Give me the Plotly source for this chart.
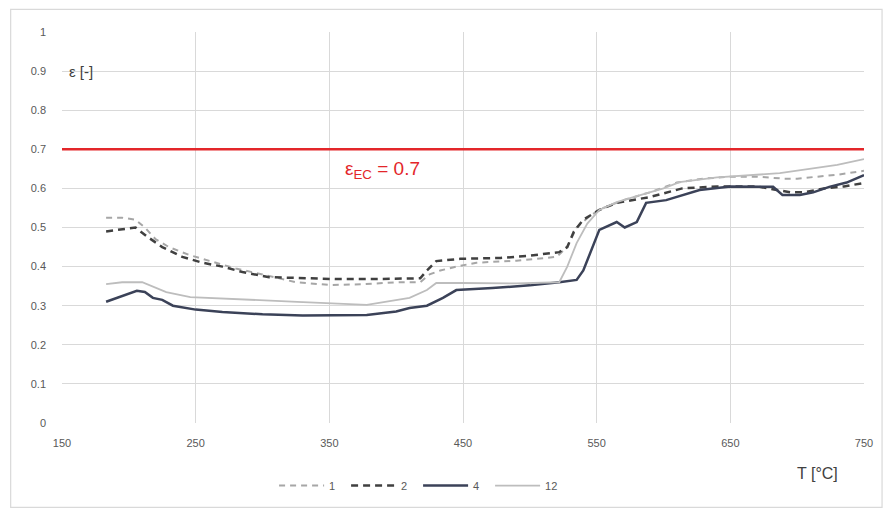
import plotly.graph_objects as go

# Emissivity measurements for samples 1, 2, 4 and 12 versus temperature
t1 = [183, 195, 205, 212, 220, 230, 245, 260, 280, 300, 325, 350, 375, 400, 418, 425, 433, 445, 460, 490,
      520, 528, 535, 545, 555, 570, 590, 610, 630, 650, 670, 690, 700, 715, 730, 750]
e1 = [0.525, 0.525, 0.52, 0.50, 0.47, 0.45, 0.43, 0.415, 0.395, 0.38, 0.36, 0.353, 0.355, 0.36, 0.36, 0.38,
      0.39, 0.40, 0.41, 0.415, 0.425, 0.45, 0.50, 0.53, 0.55, 0.57, 0.59, 0.615, 0.625, 0.63, 0.63, 0.625,
      0.625, 0.63, 0.635, 0.645]

t2 = [183, 195, 205, 214, 225, 240, 255, 270, 285, 305, 330, 356, 378, 400, 418, 423, 430, 448, 478, 500,
      522, 528, 533, 540, 552, 565, 590, 614, 640, 670, 685, 695, 705, 720, 735, 750]
e2 = [0.49, 0.495, 0.50, 0.476, 0.45, 0.425, 0.41, 0.40, 0.386, 0.373, 0.37, 0.368, 0.368, 0.37, 0.37,
      0.39, 0.414, 0.42, 0.422, 0.428, 0.437, 0.45, 0.49, 0.52, 0.545, 0.563, 0.578, 0.60, 0.605, 0.605,
      0.595, 0.59, 0.59, 0.60, 0.605, 0.614]

t4 = [183, 195, 206, 212, 218, 225, 233, 250, 270, 300, 330, 378, 400, 410, 423, 435, 445, 472, 500, 522,
      535, 540, 543, 548, 552, 565, 571, 580, 587, 602, 627, 650, 682, 689, 702, 712, 724, 737, 750]
e4 = [0.31, 0.325, 0.338, 0.335, 0.32, 0.315, 0.30, 0.29, 0.284, 0.278, 0.275, 0.276, 0.285, 0.294, 0.30,
      0.32, 0.34, 0.345, 0.352, 0.36, 0.366, 0.39, 0.417, 0.46, 0.494, 0.514, 0.50, 0.514, 0.563, 0.57,
      0.596, 0.605, 0.604, 0.583, 0.583, 0.59, 0.604, 0.615, 0.634]

t12 = [183, 195, 210, 228, 246, 270, 288, 326, 378, 410, 423, 430, 448, 490, 522, 528, 535, 543, 552, 565,
       580, 600, 612, 640, 687, 710, 730, 750]
e12 = [0.355, 0.36, 0.36, 0.335, 0.322, 0.318, 0.315, 0.31, 0.302, 0.32, 0.34, 0.358, 0.358, 0.357, 0.36,
       0.40, 0.46, 0.51, 0.545, 0.565, 0.58, 0.60, 0.616, 0.628, 0.639, 0.65, 0.66, 0.675]

# Limit value from the Eurocode
eps_ec = 0.7
t_range = [150, 750]

x_ticks = [150, 250, 350, 450, 550, 650, 750]
y_ticks = [0, 0.1, 0.2, 0.3, 0.4, 0.5, 0.6, 0.7, 0.8, 0.9, 1]
y_labels = ["0", "0.1", "0.2", "0.3", "0.4", "0.5", "0.6", "0.7", "0.8", "0.9", "1"]

FONT = "Liberation Sans"
TXT = "#595959"

fig = go.Figure()

fig.add_trace(go.Scatter(x=t_range, y=[eps_ec, eps_ec], mode="lines",
                         line=dict(color="#e3262a", width=2.5), showlegend=False, hoverinfo="skip"))

fig.add_trace(go.Scatter(x=t1, y=e1, mode="lines", name="1",
                         line=dict(color="#a6a6a6", width=2, dash="6px,5px")))
fig.add_trace(go.Scatter(x=t2, y=e2, mode="lines", name="2",
                         line=dict(color="#404040", width=2.5, dash="7px,5px")))
fig.add_trace(go.Scatter(x=t4, y=e4, mode="lines", name="4",
                         line=dict(color="#3b4258", width=2.5)))
fig.add_trace(go.Scatter(x=t12, y=e12, mode="lines", name="12",
                         line=dict(color="#bdbdbd", width=1.8)))

fig.add_annotation(x=390, y=0.647, text="ε<sub>EC</sub> = 0.7", showarrow=False,
                   font=dict(family=FONT, size=19, color="#e3262a"))
fig.add_annotation(x=0.006, y=0.9, xref="paper", text="ε [-]", showarrow=False, xanchor="left",
                   font=dict(family=FONT, size=15, color="#404040"))
fig.add_annotation(x=0.97, y=-0.155, xref="paper", yref="paper", text="T [°C]", showarrow=False,
                   font=dict(family=FONT, size=16, color="#404040"))

# light frame around the whole chart
fig.add_shape(type="rect", xref="paper", yref="paper", x0=-0.064, x1=1.0225, y0=-0.216, y1=1.058,
              line=dict(color="#d9d9d9", width=1.2), layer="below")

fig.update_xaxes(range=t_range, tickvals=x_ticks, showgrid=True, gridcolor="#d9d9d9", gridwidth=1,
                 zeroline=False, showline=False, ticks="", ticklabelstandoff=12,
                 tickfont=dict(family=FONT, size=11, color=TXT))
fig.update_yaxes(range=[0, 1], tickvals=y_ticks, ticktext=y_labels, showgrid=True, gridcolor="#d9d9d9",
                 gridwidth=1, zeroline=False, showline=False, ticks="", ticklabelstandoff=15,
                 tickfont=dict(family=FONT, size=11, color=TXT))

fig.update_layout(
    width=892, height=513,
    margin=dict(l=62, r=28, t=32, b=90),
    paper_bgcolor="white", plot_bgcolor="white",
    legend=dict(orientation="h", x=0.444, xanchor="center", y=-0.16, yanchor="middle",
                font=dict(family=FONT, size=11, color=TXT), entrywidth=12, entrywidthmode="pixels",
                itemwidth=45),
)

fig.write_html("out.html")
